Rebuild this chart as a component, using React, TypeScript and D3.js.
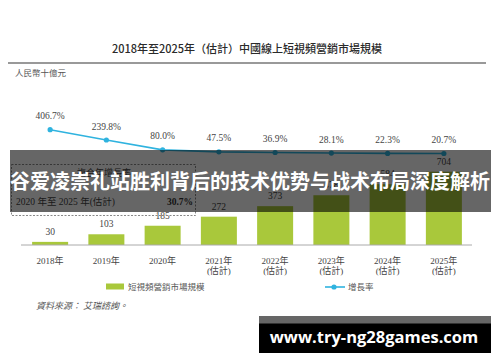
import React, { useRef, useEffect } from 'react';
import * as d3 from 'd3';

const years = ['2018年', '2019年', '2020年', '2021年', '2022年', '2023年', '2024年', '2025年'];
const estimated = [false, false, false, true, true, true, true, true];
const marketSize = [30, 103, 185, 272, 373, 478, 584, 704];
const growthRate = [406.7, 239.8, 80.0, 47.5, 36.9, 28.1, 22.3, 20.7];

const title = '2018年至2025年（估計）中國線上短視頻營銷市場規模';
const unitLabel = '人民幣十億元';
const barLegend = '短視頻營銷市場規模';
const lineLegend = '增長率';
const source = '資料來源：  艾瑞諮詢。';
const cagrTitle = '複合年增長率';
const cagrPeriod = '2020 年至 2025 年(估計)';
const cagrValue = '30.7%';
const bannerText = '谷爱凌崇礼站胜利背后的技术优势与战术布局深度解析';
const siteText = 'www.try-ng28games.com';

const SERIF = '"Liberation Serif", "DejaVu Serif", "Noto Sans CJK TC", serif';
const SANS = '"Noto Sans CJK TC", "Liberation Sans", sans-serif';
const GREEN = '#a9c83b';
const BLUE = '#2fb3df';

const App = () => {
    const svgRef = useRef<SVGSVGElement>(null);

    useEffect(() => {
        const svg = d3.select(svgRef.current);
        svg.selectAll('*').remove();

        const baseY = 245;

        const x = d3.scaleBand()
            .domain(years)
            .range([22, 472])
            .paddingInner(0.36)
            .paddingOuter(0.18);

        const y = d3.scaleLinear().domain([0, 800]).range([baseY, 161.7]);
        const yg = d3.scaleLinear().domain([0, 500]).range([154.8, 123.95]);
        const cx = (d: string) => (x(d) as number) + x.bandwidth() / 2;

        svg.append('rect').attr('width', 500).attr('height', 362).attr('fill', '#fff');

        // title
        svg.append('text')
            .attr('x', 247).attr('y', 53)
            .attr('text-anchor', 'middle')
            .attr('font-family', SANS)
            .attr('font-size', 11)
            .attr('font-weight', 500)
            .attr('fill', '#2a2a2a')
            .text(title);

        svg.append('line')
            .attr('x1', 8).attr('x2', 486)
            .attr('y1', 63).attr('y2', 63)
            .attr('stroke', '#999').attr('stroke-width', 2);

        svg.append('text')
            .attr('x', 15).attr('y', 76)
            .attr('font-family', SANS)
            .attr('font-size', 8.5)
            .attr('fill', '#555')
            .text(unitLabel);

        // bars
        svg.selectAll('.bar')
            .data(marketSize)
            .enter()
            .append('rect')
            .attr('class', 'bar')
            .attr('x', (d, i) => x(years[i]) as number)
            .attr('y', d => y(d))
            .attr('width', x.bandwidth())
            .attr('height', d => baseY - y(d))
            .attr('fill', GREEN);

        svg.selectAll('.bar-label')
            .data(marketSize)
            .enter()
            .append('text')
            .attr('class', 'bar-label')
            .attr('x', (d, i) => cx(years[i]))
            .attr('y', d => y(d) - 7)
            .attr('text-anchor', 'middle')
            .attr('font-family', SERIF)
            .attr('font-size', 9.5)
            .attr('fill', '#444')
            .text(d => d);

        svg.append('line')
            .attr('x1', 21).attr('x2', 472)
            .attr('y1', baseY).attr('y2', baseY)
            .attr('stroke', '#aaa').attr('stroke-width', 1);

        // x labels
        const xl = svg.selectAll('.x-label')
            .data(years)
            .enter()
            .append('text')
            .attr('class', 'x-label')
            .attr('text-anchor', 'middle')
            .attr('font-family', SERIF)
            .attr('font-size', 9)
            .attr('fill', '#444');
        xl.append('tspan')
            .attr('x', d => cx(d))
            .attr('y', 264)
            .text(d => d);
        xl.filter((d, i) => estimated[i])
            .append('tspan')
            .attr('x', d => cx(d))
            .attr('y', 274)
            .text('(估計)');

        // growth line
        const line = d3.line<number>()
            .x((d, i) => cx(years[i]))
            .y(d => yg(d));

        svg.append('path')
            .datum(growthRate)
            .attr('d', line)
            .attr('fill', 'none')
            .attr('stroke', BLUE)
            .attr('stroke-width', 1.6);

        svg.selectAll('.dot')
            .data(growthRate)
            .enter()
            .append('circle')
            .attr('cx', (d, i) => cx(years[i]))
            .attr('cy', d => yg(d))
            .attr('r', 2.6)
            .attr('fill', BLUE);

        svg.selectAll('.g-label')
            .data(growthRate)
            .enter()
            .append('text')
            .attr('x', (d, i) => cx(years[i]))
            .attr('y', d => yg(d) - 10.5)
            .attr('text-anchor', 'middle')
            .attr('font-family', SERIF)
            .attr('font-size', 9.5)
            .attr('fill', '#444')
            .text(d => d.toFixed(1) + '%');

        // CAGR box
        svg.append('rect')
            .attr('x', 11.5).attr('y', 164.5)
            .attr('width', 184).attr('height', 51)
            .attr('fill', 'none')
            .attr('stroke', '#888')
            .attr('stroke-dasharray', '2,1.5');
        svg.append('text')
            .attr('x', 104).attr('y', 176)
            .attr('text-anchor', 'middle')
            .attr('font-family', SANS)
            .attr('font-size', 9)
            .attr('fill', '#444')
            .text(cagrTitle);
        svg.append('text')
            .attr('x', 16).attr('y', 205)
            .attr('font-family', SERIF)
            .attr('font-size', 9.5)
            .attr('fill', '#444')
            .text(cagrPeriod);
        svg.append('text')
            .attr('x', 193).attr('y', 205)
            .attr('text-anchor', 'end')
            .attr('font-family', SERIF)
            .attr('font-size', 9.5)
            .attr('font-weight', 'bold')
            .attr('fill', '#333')
            .text(cagrValue);

        // legend
        svg.append('rect')
            .attr('x', 106).attr('y', 283.5)
            .attr('width', 18).attr('height', 6)
            .attr('fill', GREEN);
        svg.append('text')
            .attr('x', 128).attr('y', 290)
            .attr('font-family', SANS)
            .attr('font-size', 8.5)
            .attr('fill', '#555')
            .text(barLegend);
        svg.append('line')
            .attr('x1', 325).attr('x2', 345)
            .attr('y1', 287).attr('y2', 287)
            .attr('stroke', BLUE).attr('stroke-width', 1.6);
        svg.append('circle')
            .attr('cx', 334).attr('cy', 287).attr('r', 2.6)
            .attr('fill', BLUE);
        svg.append('text')
            .attr('x', 348).attr('y', 290)
            .attr('font-family', SANS)
            .attr('font-size', 8.5)
            .attr('fill', '#555')
            .text(lineLegend);

        svg.append('text')
            .attr('x', 36).attr('y', 309)
            .attr('font-family', SANS)
            .attr('font-size', 9)
            .attr('font-style', 'italic')
            .attr('fill', '#555')
            .text(source);

        // banner overlay
        svg.append('rect')
            .attr('x', 10).attr('y', 150)
            .attr('width', 481).attr('height', 62)
            .attr('fill', 'rgba(0,0,0,0.6)');
        svg.append('text')
            .attr('x', 250).attr('y', 189)
            .attr('text-anchor', 'middle')
            .attr('font-family', '"Noto Sans CJK SC", sans-serif')
            .attr('font-weight', 'bold')
            .attr('font-size', 20)
            .attr('fill', '#fff')
            .text(bannerText);

        // site box
        svg.append('rect')
            .attr('x', 259).attr('y', 316)
            .attr('width', 232).attr('height', 37)
            .attr('fill', '#000');
        svg.append('rect')
            .attr('x', 259).attr('y', 316)
            .attr('width', 232).attr('height', 7.5)
            .attr('fill', '#666');
        svg.append('text')
            .attr('x', 374).attr('y', 343)
            .attr('text-anchor', 'middle')
            .attr('font-family', '"Open Sans", "DejaVu Sans", sans-serif')
            .attr('font-weight', 'bold')
            .attr('font-size', 16.5)
            .attr('fill', '#fff')
            .text(siteText);
    }, []);

    return (
        <svg ref={svgRef} width={500} height={362}
            style={{ position: 'absolute', left: 0, top: 0 }}></svg>
    );
};

export default App;
